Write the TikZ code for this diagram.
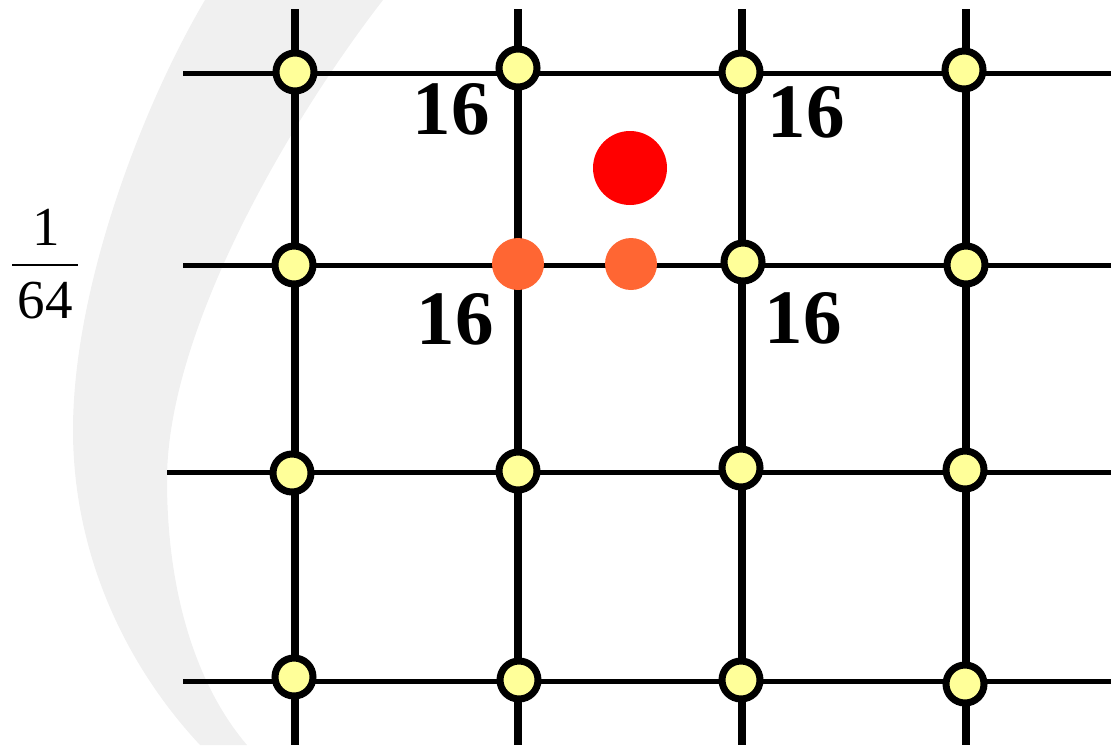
\documentclass[tikz,border=0pt]{standalone}
\usepackage{fontspec}
\setmainfont{Liberation Serif}
\definecolor{ylwfill}{HTML}{FFFF99}
\definecolor{orgfill}{HTML}{FF6633}
\definecolor{redfill}{HTML}{FF0000}
\definecolor{bandgray}{HTML}{F0F0F0}
\begin{document}
\begin{tikzpicture}[x=1pt,y=-1pt,
  hline/.style={line width=5pt, black},
  vline/.style={line width=7.5pt, black},
  ydot/.style={circle, draw=black, line width=7pt, fill=ylwfill, minimum size=38pt, inner sep=0pt},
  odot/.style={circle, fill=orgfill, minimum size=52pt, inner sep=0pt},
  rdot/.style={circle, fill=redfill, minimum size=74pt, inner sep=0pt},
  wlabel/.style={inner sep=0pt, font=\fontsize{77}{80}\selectfont\bfseries},
  flabel/.style={inner sep=0pt, font=\fontsize{55}{60}\selectfont}
]
\useasboundingbox (0,0) rectangle (1115,745);
\clip (0,0) rectangle (1115,745);
% grey band
\fill[bandgray] (205,0) .. controls (140,110) and (73,290) .. (73,430)
  .. controls (73,560) and (130,670) .. (200,745) -- (247,745)
  .. controls (200,690) and (167,600) .. (167,480)
  .. controls (167,330) and (290,120) .. (383,0) -- cycle;
% fraction
\node[flabel] (num) at (46,227) {1};
\node[flabel] (den) at (45,301) {64};
\coordinate (barL) at (12,265);
\coordinate (barR) at (78,265);
\draw[line width=2.3pt] (barL) -- (barR);
% line ends
\coordinate (h1a) at (183,73);  \coordinate (h1b) at (1111,73);
\coordinate (h2a) at (183,265); \coordinate (h2b) at (1111,265);
\coordinate (h3a) at (167,472); \coordinate (h3b) at (1111,472);
\coordinate (h4a) at (183,681); \coordinate (h4b) at (1111,681);
\coordinate (v1a) at (295,9);   \coordinate (v1b) at (295,745);
\coordinate (v2a) at (518,9);   \coordinate (v2b) at (518,745);
\coordinate (v3a) at (742,9);   \coordinate (v3b) at (742,745);
\coordinate (v4a) at (966,9);   \coordinate (v4b) at (966,745);
\foreach \i in {1,2,3,4} {\draw[hline] (h\i a) -- (h\i b);}
\foreach \i in {1,2,3,4} {\draw[vline] (v\i a) -- (v\i b);}
% nodes
\node[ydot] (y11) at (295,72) {};
\node[ydot] (y12) at (294,265) {};
\node[ydot] (y13) at (292,473) {};
\node[ydot] (y14) at (294,677) {};
\node[ydot] (y21) at (518,68) {};
\node[odot] (o22) at (518,264) {};
\node[ydot] (y23) at (518,471) {};
\node[ydot] (y24) at (519,680) {};
\node[ydot] (y31) at (741,72) {};
\node[ydot] (y32) at (743,262) {};
\node[ydot] (y33) at (741,468) {};
\node[ydot] (y34) at (741,680) {};
\node[ydot] (y41) at (964,70) {};
\node[ydot] (y42) at (966,265) {};
\node[ydot] (y43) at (965,470) {};
\node[ydot] (y44) at (965,684) {};
\node[odot] (omid) at (631,264) {};
\node[rdot] (red) at (630,168) {};
% labels
\node[wlabel] (w1) at (451,109) {16};
\node[wlabel] (w2) at (806,112) {16};
\node[wlabel] (w3) at (455,319) {16};
\node[wlabel] (w4) at (803,318) {16};
\end{tikzpicture}
\end{document}
